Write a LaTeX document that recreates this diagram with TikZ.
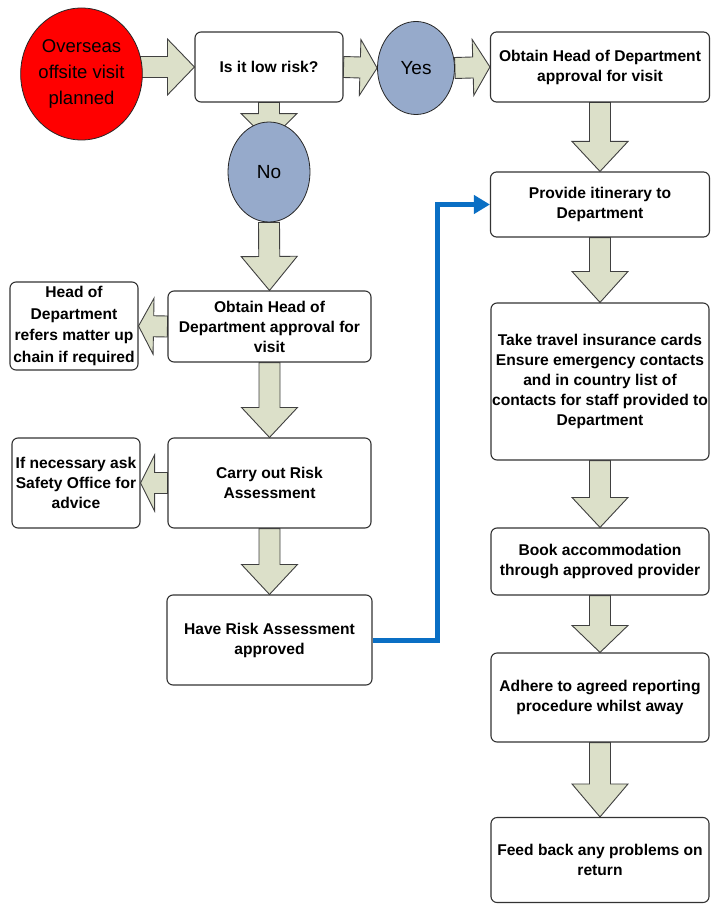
\documentclass[tikz,border=0pt]{standalone}
\usepackage{fontspec}
\setmainfont{Liberation Sans}
\usetikzlibrary{calc,arrows.meta,shapes.geometric,backgrounds}

\definecolor{arrfill}{HTML}{DCE0C9}
\definecolor{circblue}{HTML}{96AACB}
\definecolor{linkblue}{HTML}{0A6FC4}

% fat outlined arrow from #2 to #3, head length #1
\newcommand{\blockarrow}[3][30pt]{%
  \path ($(#3)!#1!(#2)$) coordinate (bah);
  \draw[blockarr] ($(#2)!10.5pt!90:(#3)$) -- ($(bah)!10.5pt!90:(#3)$)
    -- ($(bah)!28pt!90:(#3)$) -- (#3) -- ($(bah)!28pt!-90:(#3)$)
    -- ($(bah)!10.5pt!-90:(#3)$) -- ($(#2)!10.5pt!-90:(#3)$) -- cycle;}

\begin{document}
\begin{tikzpicture}[x=1pt,y=-1pt,
  every node/.style={align=center,font=\bfseries\fontsize{15.6}{20}\selectfont},
  stepbox/.style={draw=black!80,line width=1.1pt,rounded corners=6pt,fill=white,inner sep=1pt},
  oval/.style={ellipse,draw=black!85,line width=0.8pt,inner sep=0pt,font=\fontsize{19}{25}\selectfont},
  blockarr/.style={draw=black!75,fill=arrfill,line width=0.9pt,line join=miter},
  link/.style={draw=linkblue,line width=5pt,-{Triangle[length=16pt,width=18pt]}}]

\useasboundingbox (0,0) rectangle (711,904);

\node [oval,fill=red,minimum width=109,minimum height=132,font=\fontsize{18.5}{26}\selectfont] (plan) at (81.5,74) {Overseas\\offsite visit\\planned};
\node [stepbox,minimum width=148,minimum height=70] (lowrisk) at (269,67) {Is it low risk?};
\node [oval,fill=circblue,minimum width=77,minimum height=93] (yes) at (416,68) {Yes};
\node [stepbox,minimum width=219,minimum height=70] (hodright) at (600,67) {Obtain Head of Department\\approval for visit};
\node [oval,fill=circblue,minimum width=82,minimum height=100] (no) at (269,172) {No};
\coordinate (notip) at ($(no.north)+(0,20)$);

% left column
\node [stepbox,minimum width=203,minimum height=71] (hodleft) at (269.5,326.5) {Obtain Head of\\Department approval for\\visit};
\node [stepbox,minimum width=128,minimum height=88,font=\bfseries\fontsize{15.6}{21.5}\selectfont] (refer) at (74,326) {Head of\\Department\\refers matter up\\chain if required};
\node [stepbox,minimum width=203,minimum height=90] (carry) at (269.5,483) {Carry out Risk\\Assessment};
\node [stepbox,minimum width=128,minimum height=90] (safety) at (76,483) {If necessary ask\\Safety Office for\\advice};
\node [stepbox,minimum width=205,minimum height=90] (approved) at (269.5,640) {Have Risk Assessment\\approved};

% right column
\node [stepbox,minimum width=219,minimum height=65] (itin) at (600,204.5) {Provide itinerary to\\Department};
\node [stepbox,minimum width=218,minimum height=157] (insur) at (600,381.5) {Take travel insurance cards\\Ensure emergency contacts\\and in country list of\\contacts for staff provided to\\Department};
\node [stepbox,minimum width=218,minimum height=67] (book) at (600,561.5) {Book accommodation\\through approved provider};
\node [stepbox,minimum width=218,minimum height=89] (adhere) at (600,697.5) {Adhere to agreed reporting\\procedure whilst away};
\node [stepbox,minimum width=218,minimum height=85] (feed) at (600,860) {Feed back any problems on\\return};

\begin{pgfonlayer}{background}
\blockarrow[27pt]{plan |- lowrisk.west}{lowrisk.west}
\blockarrow[17pt]{lowrisk.east}{yes.west}
\blockarrow[17pt]{yes.east}{hodright.west}
\blockarrow[28pt]{lowrisk.south}{notip}
\blockarrow[34pt]{no.south}{hodleft.north}
\blockarrow{hodleft.south}{carry.north}
\blockarrow{carry.south}{approved.north}
\blockarrow[15pt]{hodleft.west}{refer.east}
\blockarrow[14pt]{carry.west}{safety.east}
\blockarrow{hodright.south}{itin.north}
\blockarrow[31pt]{itin.south}{insur.north}
\blockarrow{insur.south}{book.north}
\blockarrow[27pt]{book.south}{adhere.north}
\blockarrow[33pt]{adhere.south}{feed.north}
\end{pgfonlayer}

\draw [link] (approved.east) -- ++(65,0) |- (itin.west);
\end{tikzpicture}
\end{document}
